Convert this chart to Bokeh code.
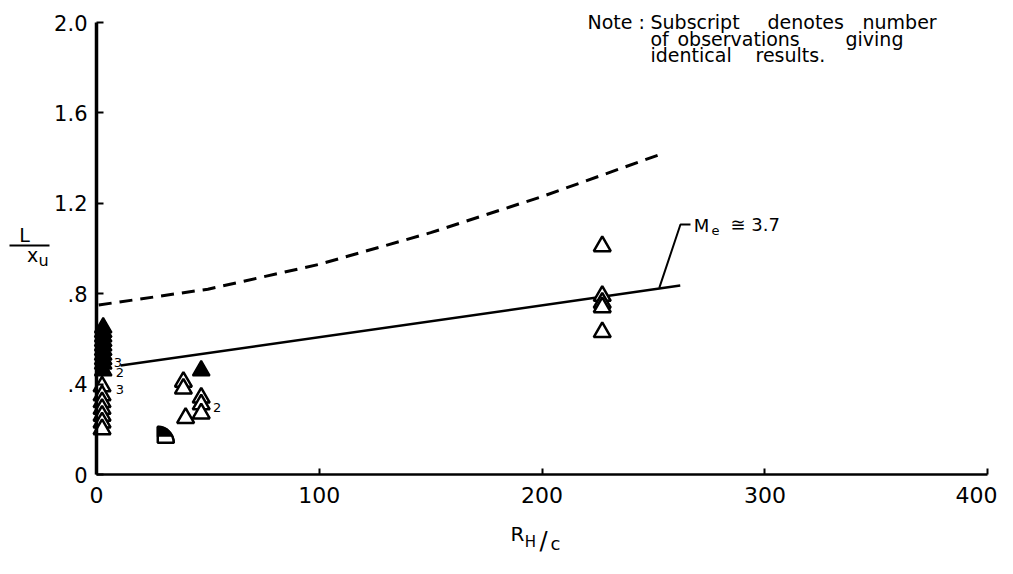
import math
from bokeh.plotting import figure
from bokeh.models import Label, Range1d, FixedTicker
from bokeh.embed import file_html
from bokeh.resources import INLINE

# ---------------- data ----------------
x_ticks = [0, 100, 200, 300, 400]
x_tick_labels = ["0", "100", "200", "300", "400"]
y_ticks = [0, 0.4, 0.8, 1.2, 1.6, 2.0]
y_tick_labels = ["0", ".4", ".8", "1.2", "1.6", "2.0"]

filled_x = [3, 3, 3, 3, 3, 3, 3, 3, 3, 3, 47]
filled_y = [0.65, 0.63, 0.61, 0.59, 0.57, 0.55, 0.53, 0.51, 0.49, 0.46, 0.46]

open_x = [2.5, 2.5, 2.5, 2.5, 2.5, 2.5, 2.5, 39, 39, 40, 47, 47, 47, 227, 227, 227, 227, 227]
open_y = [0.39, 0.35, 0.32, 0.29, 0.26, 0.23, 0.20, 0.41, 0.38, 0.25, 0.34, 0.31, 0.27,
          1.01, 0.79, 0.76, 0.74, 0.63]

half_x = [27.5]
half_y = [0.14]

sub_text = ["3", "2", "3", "2"]
sub_x = [9.6, 10.5, 10.5, 54.2]
sub_y = [0.497, 0.453, 0.375, 0.298]

solid_x = [10.8, 262]
solid_y = [0.482, 0.836]

dashed_x = [1, 50, 100, 150, 200, 254]
dashed_y = [0.75, 0.82, 0.93, 1.07, 1.23, 1.42]

leader_x = [252.6, 262.1, 266.6]
leader_y = [0.826, 1.106, 1.106]

FONT = "DejaVu Sans"

# canvas geometry: x=0 at px 96, 2.228 px/unit ; y=0 at px 474, 226 px/unit
W, H = 997, 558
X0, XS = 96.0, 2.228
Y0, YS = 474.0, 226.0

p = figure(width=W, height=H, output_backend="svg", toolbar_location=None,
           x_range=Range1d(-X0 / XS, (W - X0) / XS),
           y_range=Range1d((Y0 - H) / YS, Y0 / YS),
           min_border=0, min_border_left=0, min_border_right=0,
           min_border_top=0, min_border_bottom=0)
p.outline_line_color = None
p.grid.visible = False


def tx(px):
    return (px - X0) / XS


def ty(py):
    return (Y0 - py) / YS


# axes drawn at the data origin
p.xaxis.fixed_location = 0
p.yaxis.fixed_location = 0
p.xaxis.bounds = (0, 400)
p.yaxis.bounds = (0, 2.0)

p.xaxis.ticker = FixedTicker(ticks=x_ticks)
p.xaxis.major_label_overrides = {t: l for t, l in zip(x_ticks, x_tick_labels)}
p.xaxis.axis_line_width = 2.5
p.xaxis.major_tick_in = 6
p.xaxis.major_tick_out = 0
p.xaxis.major_tick_line_width = 2
p.xaxis.minor_tick_line_color = None
p.xaxis.major_label_standoff = 12
p.xaxis.major_label_text_font = FONT
p.xaxis.major_label_text_font_size = "22px"
p.xaxis.major_label_text_color = "black"

p.yaxis.ticker = FixedTicker(ticks=y_ticks)
p.yaxis.major_label_overrides = {t: l for t, l in zip(y_ticks, y_tick_labels)}
p.yaxis.axis_line_width = 3.5
p.yaxis.major_tick_in = 7
p.yaxis.major_tick_out = 0
p.yaxis.major_tick_line_width = 2
p.yaxis.minor_tick_line_color = None
p.yaxis.major_label_standoff = 9
p.yaxis.major_label_text_font = FONT
p.yaxis.major_label_text_font_size = "21px"
p.yaxis.major_label_text_color = "black"

# curves
p.line(dashed_x, dashed_y, line_color="black", line_width=3, line_dash="13 8")
p.line(solid_x, solid_y, line_color="black", line_width=2.5)
p.line(leader_x, leader_y, line_color="black", line_width=2)

# points
p.scatter(open_x, open_y, marker="triangle", size=17, fill_color="white",
          line_color="black", line_width=2.5)
p.scatter(filled_x, filled_y, marker="triangle", size=17, fill_color="black",
          line_color="black", line_width=2)

# half-filled symbol
p.wedge(half_x, half_y, radius=16, radius_units="screen", start_angle=0,
        end_angle=math.pi / 2, fill_color="black", line_color="black", line_width=2)
p.rect(half_x, half_y, width=30, height=12, width_units="screen", height_units="screen",
       fill_color="white", line_color=None)
p.wedge(half_x, half_y, radius=16, radius_units="screen", start_angle=0,
        end_angle=math.pi / 2, fill_color=None, line_color="black", line_width=2.5)


def lab(text, px, py, size, align="left"):
    p.add_layout(Label(x=tx(px), y=ty(py), text=text, text_font=FONT,
                       text_font_size=size, text_baseline="middle",
                       text_align=align, text_color="black"))


# subscripts
for t, x, y in zip(sub_text, sub_x, sub_y):
    p.add_layout(Label(x=x, y=y, text=t, text_font=FONT, text_font_size="13px",
                       text_baseline="middle", text_align="center", text_color="black"))

# Me label
lab("M", 701, 225, "18px", "center")
lab("e", 715, 230, "13px", "center")
lab("\u2245 3.7", 730, 224, "18px")

# note
for t, px, py in [("Note :", 587, 21), ("Subscript", 650, 21), ("denotes", 767, 21),
                  ("number", 862, 21), ("of", 650, 38), ("observations", 677, 38),
                  ("giving", 845, 38), ("identical", 650, 54), ("results.", 755, 54)]:
    lab(t, px, py, "19px")

# y axis label  L / x_u
lab("L", 24, 234, "19px", "center")
p.line([tx(9), tx(49)], [ty(245), ty(245)], line_color="black", line_width=2)
lab("x", 32, 254, "19px", "center")
lab("u", 43, 260, "16px", "center")

# x axis label  R_H/c
lab("R", 517, 533, "20px", "center")
lab("H", 530, 541, "15px", "center")
lab("/", 543, 540, "24px", "center")
lab("c", 555, 543, "18px", "center")

open("out.html", "w").write(file_html(p, INLINE))
